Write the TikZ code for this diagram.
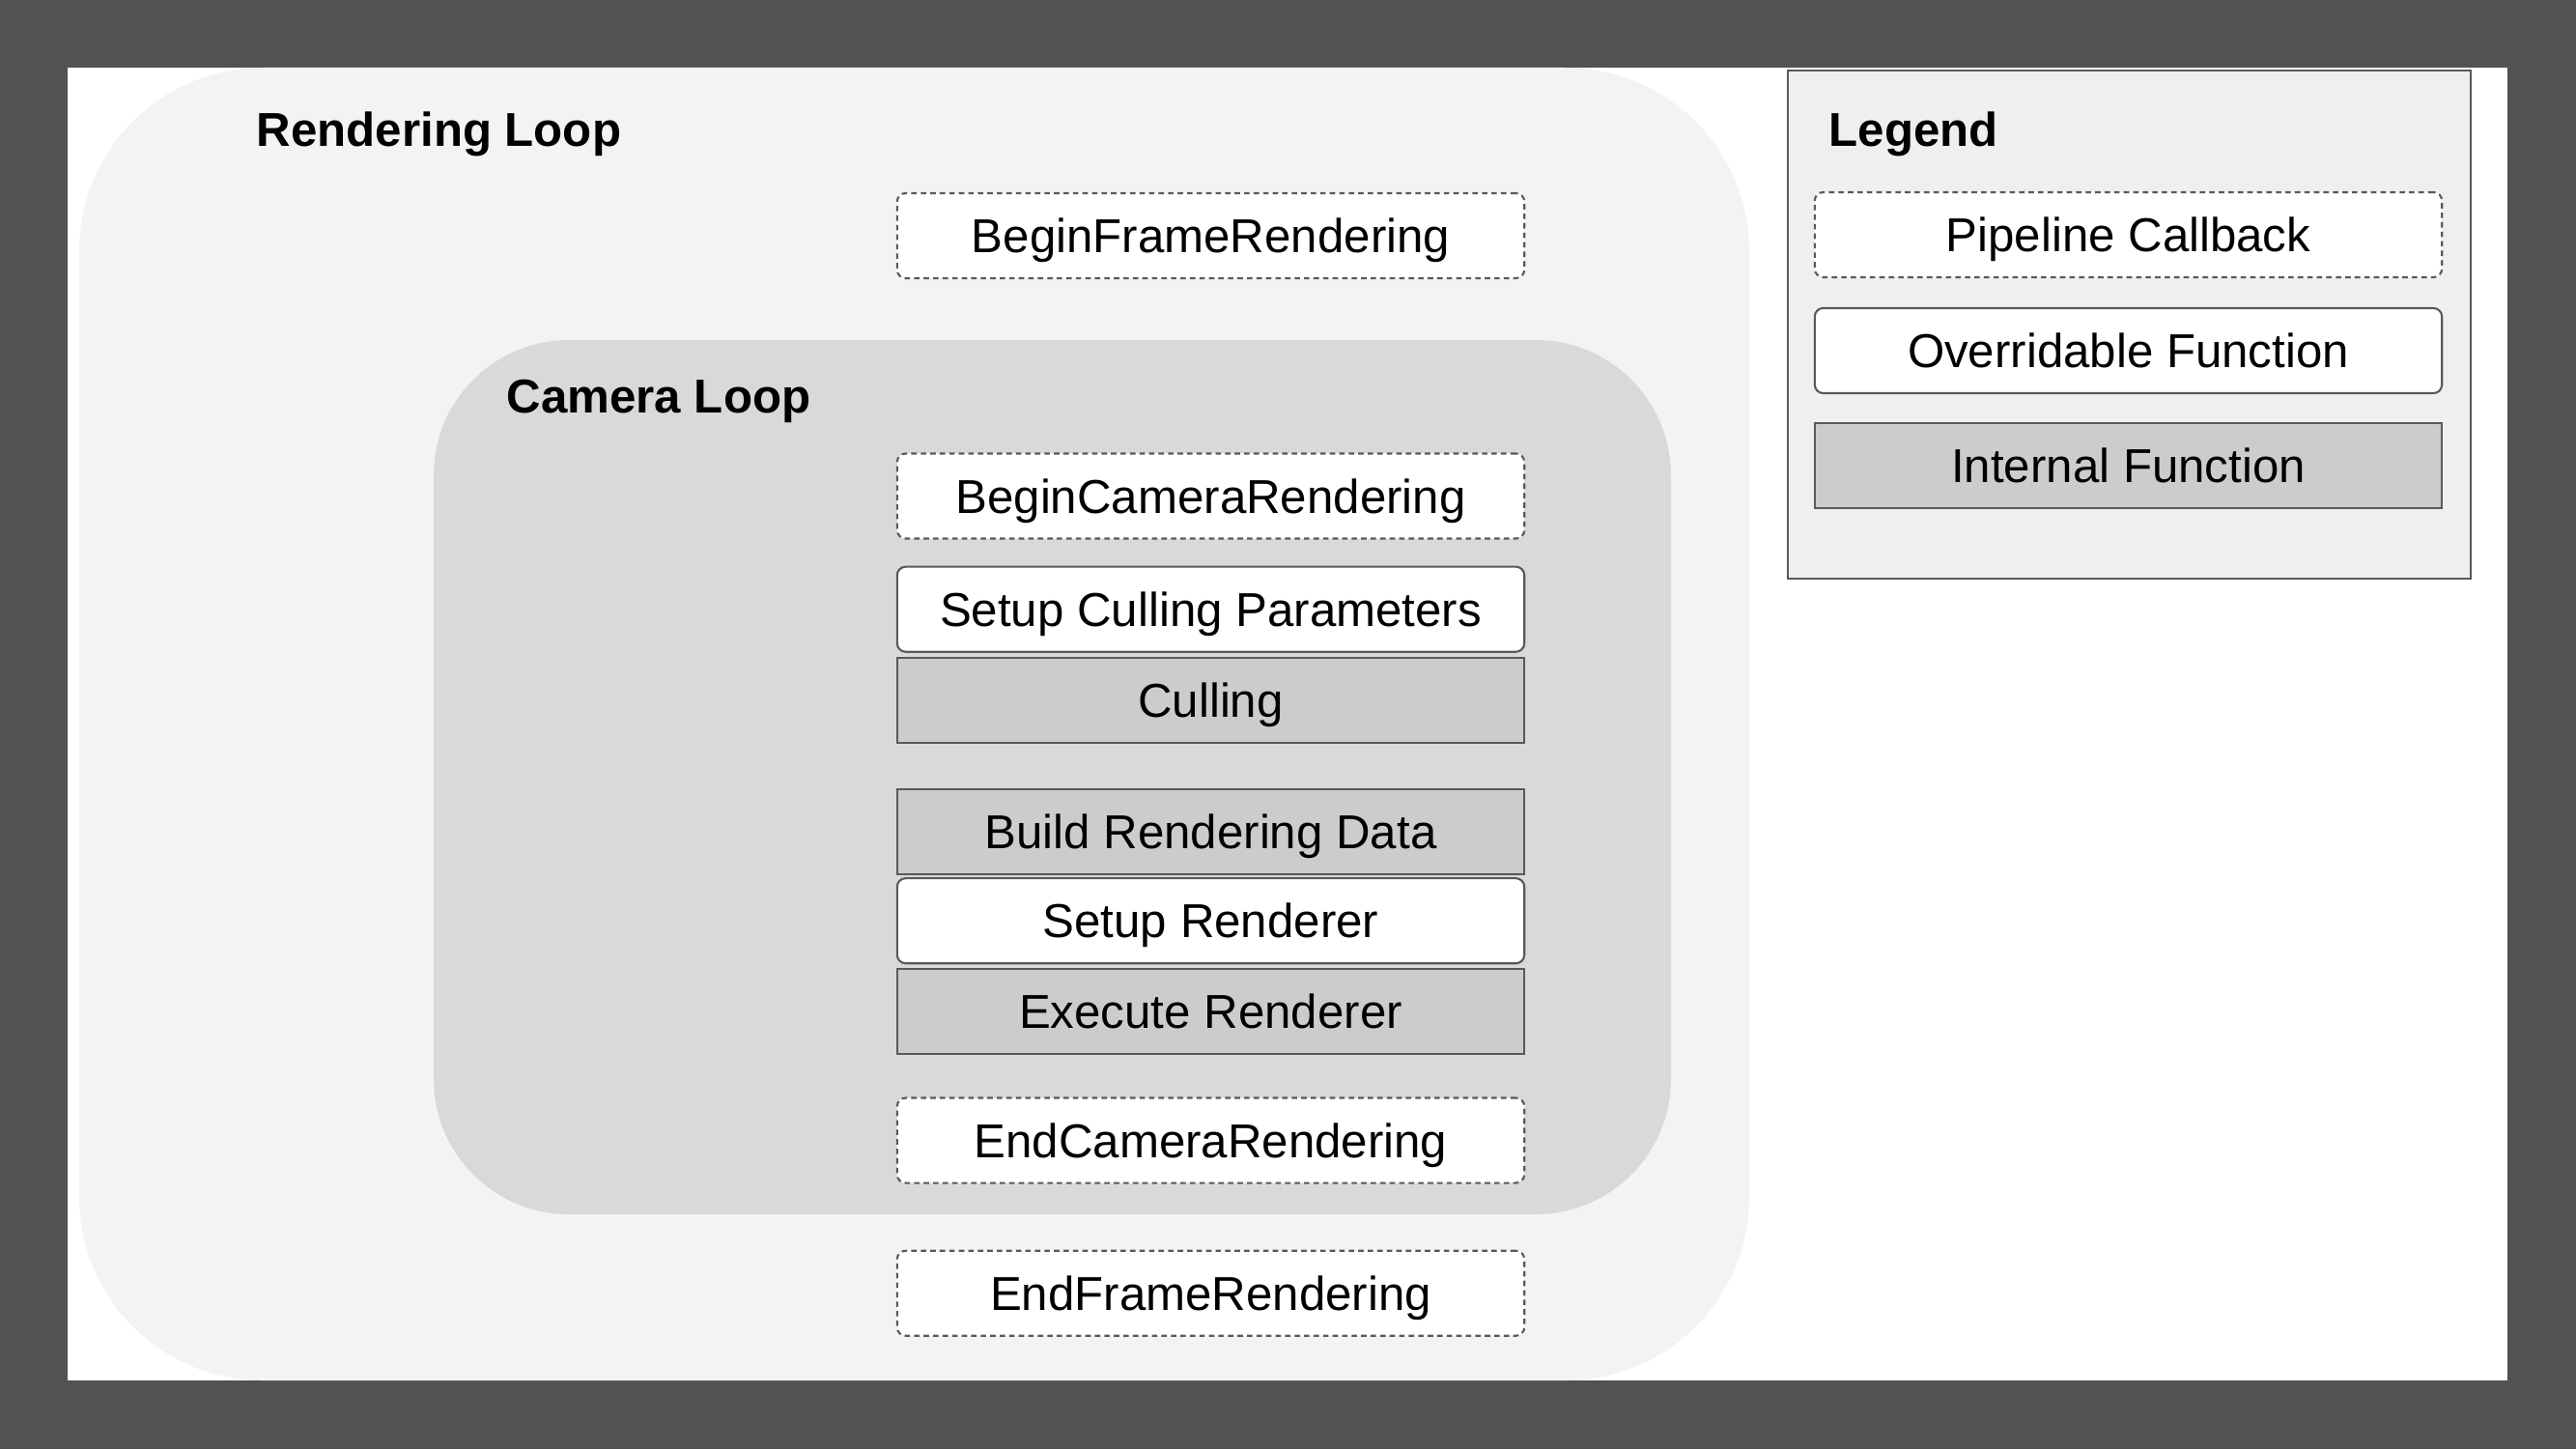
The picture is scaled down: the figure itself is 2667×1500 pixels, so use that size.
\documentclass[tikz,border=0pt]{standalone}
\usepackage{fontspec}
\setmainfont{Liberation Sans}
\usetikzlibrary{positioning}
\definecolor{framegray}{HTML}{525252}
\definecolor{rloopfill}{HTML}{F3F3F3}
\definecolor{cloopfill}{HTML}{D9D9D9}
\definecolor{intfill}{HTML}{CCCCCC}
\definecolor{legfill}{HTML}{EFEFEF}
\definecolor{edgegray}{HTML}{595959}
\tikzset{
  fnbox/.style={
    rectangle, draw=edgegray, line width=0.6pt, minimum width=6.49cm, minimum height=0.88cm,
    inner sep=0pt, text height=10pt, text depth=0pt, align=center, font=\fontsize{14}{16}\selectfont
  },
  callback/.style={fnbox, fill=white, rounded corners=2.5pt, dash pattern=on 1.6pt off 1.2pt},
  overridable/.style={fnbox, fill=white, rounded corners=2.5pt},
  internal/.style={fnbox, fill=intfill},
  looptitle/.style={anchor=west, inner sep=0pt, font=\fontsize{14}{16}\selectfont\bfseries}
}

\begin{document}
\begin{tikzpicture}[x=0.01cm, y=-0.01cm]
    \useasboundingbox (0,0) rectangle (2667,1500);
    
    % Frame and loops
    \fill[framegray] (0,0) rectangle (2667,1500);
    \fill[white] (70,70) rectangle (2596,1429);
    \fill[rloopfill, rounded corners=1.9cm] (82,70) rectangle (1811,1429);
    \fill[cloopfill, rounded corners=1.4cm] (449,352) rectangle (1730,1257);
    \node[looptitle] (rtitle) at (265,139) {Rendering Loop};
    \node[looptitle] (ctitle) at (524,415) {Camera Loop};
    
    % Pipeline steps
    \node[callback] (beginframe) at (1253.5,244) {BeginFrameRendering};
    \node[callback] (begincam) at (1253.5,513.5) {BeginCameraRendering};
    \node[overridable, below=0.27cm of begincam] (setupcull) {Setup Culling Parameters};
    \node[internal, below=0.04cm of setupcull] (culling) {Culling};
    \node[internal, below=0.46cm of culling] (builddata) {Build Rendering Data};
    \node[overridable, below=0.02cm of builddata] (setuprend) {Setup Renderer};
    \node[internal, below=0.035cm of setuprend] (execrend) {Execute Renderer};
    \node[callback, below=0.435cm of execrend] (endcam) {EndCameraRendering};
    \node[callback, below=0.68cm of endcam] (endframe) {EndFrameRendering};
    
    % Legend
    \draw[edgegray, line width=0.5pt, fill=legfill] (1851,73) rectangle (2558,599);
    \node[looptitle] (legtitle) at (1893,139) {Legend};
    \node[callback] (legcb) at (2203.5,243) {Pipeline Callback};
    \node[overridable] (legov) at (2203.5,363) {Overridable Function};
    \node[internal] (legint) at (2203.5,482) {Internal Function};
    
\end{tikzpicture}
\end{document}
